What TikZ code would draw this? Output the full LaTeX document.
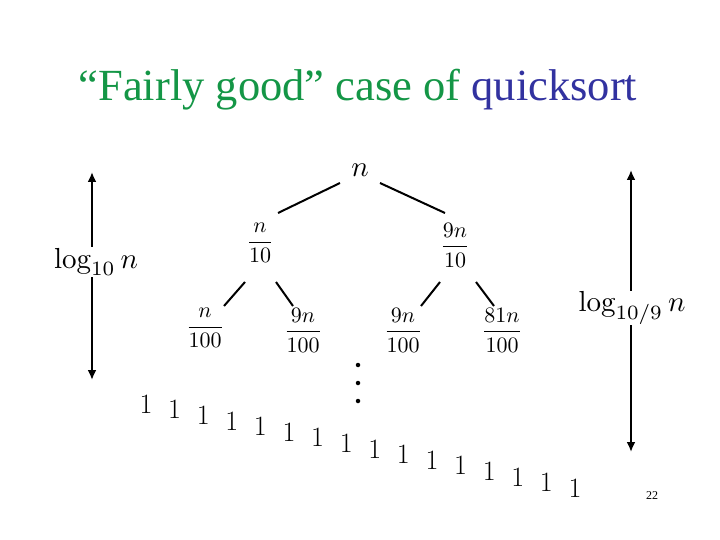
\documentclass[tikz,border=0pt]{standalone}
\usepackage{amsmath}
\usepackage{fontspec}
\usetikzlibrary{arrows.meta}
\newfontfamily\titlefont{Liberation Serif}
\definecolor{tgreen}{RGB}{20,150,70}
\definecolor{tblue}{RGB}{50,50,160}
\begin{document}
\begin{tikzpicture}[x=1pt,y=-1pt,
  lbl/.style={inner sep=0.4pt,scale=2.9},
  frac/.style={inner sep=0.5pt,scale=2.2},
  one/.style={inner sep=0pt,font=\fontsize{28}{30}\selectfont},
  edge/.style={line width=2pt},
  span/.style={line width=2pt,{Latex[length=10pt,width=9pt]}-{Latex[length=10pt,width=9pt]}}]
\useasboundingbox (0,0) rectangle (720,540);
\node[inner sep=0pt,font=\titlefont\fontsize{44.5}{48}\selectfont] (title) at (358,90) {\textcolor{tgreen}{“Fairly good” case of} \textcolor{tblue}{quicksort}};
\node[inner sep=0.5pt,scale=2.9] (r) at (360,170) {$n$};
\node[frac] (a) at (260,243) {$\dfrac{n}{10}$};
\node[frac] (b) at (455,245) {$\dfrac{9n}{10}$};
\node[frac] (c) at (205,328) {$\dfrac{n}{100}$};
\node[frac] (d) at (303,330) {$\dfrac{9n}{100}$};
\node[frac] (e) at (403,330) {$\dfrac{9n}{100}$};
\node[frac] (f) at (502,330) {$\dfrac{81n}{100}$};
\coordinate (r1) at (340,183); \coordinate (a1) at (278,213);
\coordinate (r2) at (380,183); \coordinate (b1) at (445,213);
\draw[edge] (r1) -- (a1); \draw[edge] (r2) -- (b1);
\coordinate (a2) at (245,282); \coordinate (c1) at (224,306);
\coordinate (a3) at (276,282); \coordinate (d1) at (293,306);
\coordinate (b2) at (440,282); \coordinate (e1) at (421,306);
\coordinate (b3) at (476,282); \coordinate (f1) at (494,306);
\draw[edge] (a2)--(c1); \draw[edge] (a3)--(d1); \draw[edge] (b2)--(e1); \draw[edge] (b3)--(f1);
\foreach \y/\nm in {365/d1x,383/d2x,401/d3x} \node[circle,fill,inner sep=0pt,minimum size=4.5pt] (\nm) at (358,\y) {};
\foreach \i in {0,...,15} \node[one] (o\i) at ({146+\i*28.6},{404+\i*5.6}) {1};
\coordinate (la) at (92,172); \coordinate (lb) at (92,380);
\draw[span] (la) -- (lb);
\node[lbl,fill=white] (ll) at (96,262) {$\log_{10} n$};
\coordinate (ra) at (631,170); \coordinate (rb) at (631,452);
\draw[span] (ra) -- (rb);
\node[lbl,fill=white] (rl) at (632,308) {$\log_{10/9} n$};
\node[inner sep=0pt,font=\titlefont\fontsize{12}{14}\selectfont] (pg) at (652,496) {22};
\end{tikzpicture}
\end{document}
